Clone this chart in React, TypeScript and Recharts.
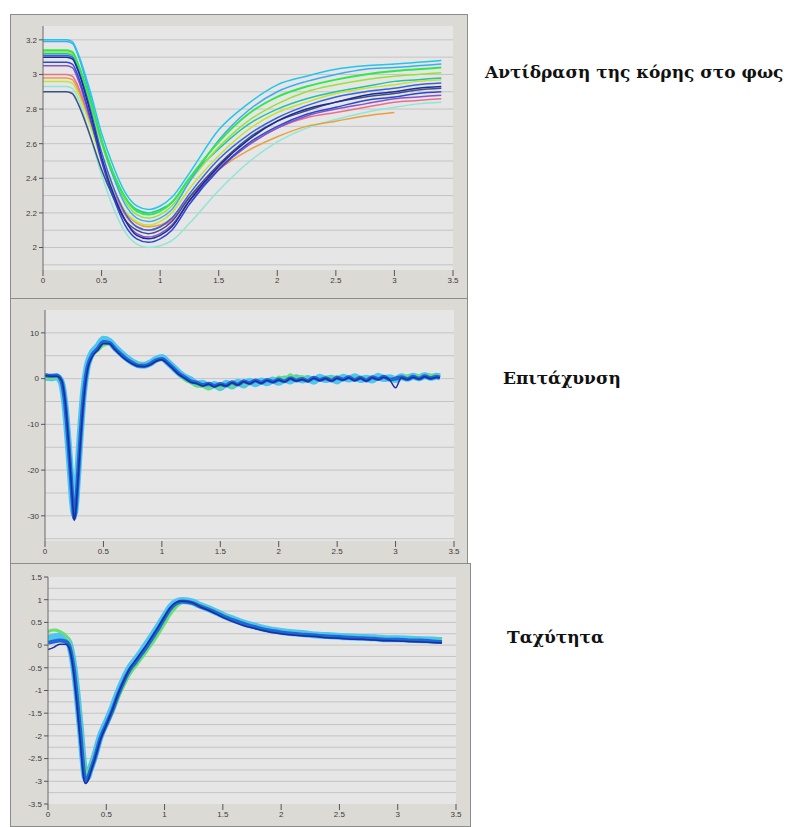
import React from 'react';
import { LineChart, Line, XAxis, YAxis, CartesianGrid, ReferenceLine } from 'recharts';

// shared x axis ticks (seconds)
const X_TICKS = [0, 0.5, 1, 1.5, 2, 2.5, 3, 3.5];

// ---- panel 1: pupil response ----
const T1 = [0, 0.1, 0.2, 0.25, 0.3, 0.4, 0.5, 0.6, 0.7, 0.8, 0.9, 1.0, 1.1, 1.25, 1.5, 1.75, 2.0, 2.25, 2.5, 2.75, 3.0, 3.2, 3.4];
const P_CYAN = [3.2, 3.2, 3.2, 3.19, 3.12, 2.91, 2.66, 2.47, 2.32, 2.24, 2.22, 2.24, 2.29, 2.43, 2.68, 2.83, 2.94, 2.99, 3.03, 3.05, 3.06, 3.07, 3.08];
const P_SKY = [3.19, 3.19, 3.19, 3.18, 3.11, 2.88, 2.62, 2.41, 2.25, 2.17, 2.15, 2.17, 2.22, 2.38, 2.62, 2.79, 2.9, 2.96, 3.0, 3.03, 3.04, 3.05, 3.06];
const P_GREEN = [3.14, 3.14, 3.14, 3.13, 3.06, 2.86, 2.62, 2.43, 2.29, 2.21, 2.19, 2.21, 2.26, 2.4, 2.61, 2.77, 2.87, 2.93, 2.97, 3.0, 3.02, 3.03, 3.04];
const P_LIME = [3.13, 3.13, 3.13, 3.12, 3.05, 2.84, 2.6, 2.41, 2.27, 2.19, 2.17, 2.19, 2.24, 2.38, 2.58, 2.73, 2.83, 2.9, 2.94, 2.97, 2.99, 3.0, 3.01];
const P_TEAL = [3.12, 3.12, 3.12, 3.11, 3.05, 2.84, 2.61, 2.43, 2.29, 2.22, 2.2, 2.22, 2.26, 2.4, 2.57, 2.71, 2.8, 2.86, 2.9, 2.93, 2.96, 2.97, 2.98];
const P_NAVY = [3.1, 3.1, 3.1, 3.09, 3.02, 2.79, 2.52, 2.31, 2.16, 2.07, 2.05, 2.07, 2.12, 2.27, 2.47, 2.62, 2.73, 2.8, 2.84, 2.88, 2.9, 2.92, 2.93];
const P_BLUE = [3.07, 3.07, 3.07, 3.06, 2.99, 2.76, 2.5, 2.29, 2.13, 2.05, 2.03, 2.05, 2.1, 2.25, 2.45, 2.6, 2.7, 2.77, 2.81, 2.85, 2.87, 2.89, 2.9];
const P_PURPLE = [3.05, 3.05, 3.05, 3.04, 2.97, 2.75, 2.51, 2.31, 2.16, 2.08, 2.06, 2.08, 2.13, 2.27, 2.45, 2.59, 2.69, 2.76, 2.8, 2.83, 2.86, 2.87, 2.88];
const P_PINK = [3.0, 3.0, 3.0, 2.99, 2.93, 2.73, 2.51, 2.33, 2.19, 2.12, 2.1, 2.12, 2.16, 2.29, 2.46, 2.59, 2.69, 2.75, 2.78, 2.81, 2.84, 2.85, 2.86];
const P_ORANGE = [2.98, 2.98, 2.98, 2.97, 2.91, 2.72, 2.51, 2.34, 2.21, 2.14, 2.12, 2.13, 2.17, 2.29, 2.45, 2.56, 2.64, 2.7, 2.73, 2.76, 2.78, null, null];
const P_YGREEN = [2.96, 2.96, 2.96, 2.95, 2.89, 2.71, 2.5, 2.34, 2.21, 2.15, 2.13, 2.15, 2.2, 2.34, 2.53, 2.68, 2.78, 2.84, 2.89, 2.92, 2.94, 2.96, 2.97];
const P_AQUA = [2.93, 2.93, 2.93, 2.92, 2.86, 2.65, 2.42, 2.23, 2.09, 2.02, 2.0, 2.01, 2.04, 2.14, 2.33, 2.49, 2.61, 2.69, 2.74, 2.78, 2.81, 2.83, 2.84];
const P_SLATE = [2.9, 2.9, 2.9, 2.89, 2.83, 2.65, 2.45, 2.29, 2.16, 2.1, 2.08, 2.1, 2.15, 2.29, 2.48, 2.63, 2.73, 2.79, 2.84, 2.87, 2.89, 2.91, 2.92];
const P_MBLUE = [3.11, 3.11, 3.11, 3.1, 3.03, 2.81, 2.55, 2.35, 2.2, 2.12, 2.1, 2.12, 2.17, 2.31, 2.51, 2.65, 2.75, 2.82, 2.87, 2.9, 2.92, 2.94, 2.95];
const Y1_TICKS = [2, 2.2, 2.4, 2.6, 2.8, 3, 3.2];
const GRID1 = [1.9, 2, 2.1, 2.2, 2.3, 2.4, 2.5, 2.6, 2.7, 2.8, 2.9, 3, 3.1, 3.2];

// ---- panel 2: acceleration ----
const T2 = [0, 0.05, 0.1, 0.14, 0.17, 0.2, 0.22, 0.24, 0.25, 0.26,
  0.28, 0.3, 0.33, 0.36, 0.4, 0.45, 0.5, 0.55, 0.6, 0.65,
  0.7, 0.75, 0.8, 0.85, 0.9, 0.95, 1.0, 1.05, 1.1, 1.15,
  1.2, 1.25, 1.3, 1.35, 1.4, 1.45, 1.5, 1.55, 1.6, 1.65,
  1.7, 1.75, 1.8, 1.85, 1.9, 1.95, 2.0, 2.05, 2.1, 2.15,
  2.2, 2.25, 2.3, 2.35, 2.4, 2.45, 2.5, 2.55, 2.6, 2.65,
  2.7, 2.75, 2.8, 2.85, 2.9, 2.95, 3.0, 3.05, 3.1, 3.15,
  3.2, 3.25, 3.3, 3.35, 3.38];
const A_CYAN = [0.3, 0.2, 0.4, -0.8, -5.5, -14.5, -21.5, -28, -29.5, -28,
  -21, -13, -3, 2.5, 5.5, 7, 8.6, 8.2, 6.8, 5.6,
  4.5, 3.6, 3.0, 2.9, 3.4, 4.2, 4.6, 3.6, 2.4, 1.2,
  0.3, -0.3, -1.2, -1.0, -1.8, -1.3, -2.0, -1.0, -1.6, -0.8,
  -1.4, -0.6, -1.1, -0.5, -0.9, -0.3, -0.8, -0.1, -0.5, 0.2,
  -0.3, 0.0, -0.6, 0.3, -0.2, 0.1, -0.5, 0.3, -0.1, 0.4,
  -0.2, 0.1, -0.3, 0.5, 0.0, 0.2, -0.2, 0.4, 0.1, 0.5,
  0.2, 0.6, 0.3, 0.5, 0.4];
const A_GREEN = [0.0, 0.1, 0.2, -1.0, -6, -15, -22, -27, -28.5, -27,
  -20, -12, -2.5, 2.0, 4.8, 6.0, 7.2, 7.5, 6.6, 5.4,
  4.4, 3.5, 3.1, 3.0, 3.1, 3.8, 4.1, 3.3, 2.0, 0.8,
  -0.4, -1.0, -1.6, -1.8, -2.3, -1.7, -2.1, -1.4, -1.8, -1.0,
  -1.2, -0.9, -0.6, -0.8, -0.2, -0.6, 0.4, 0.0, 0.9, 0.1,
  0.5, -0.2, 0.3, -0.3, 0.4, 0.0, 0.5, -0.1, 0.3, 0.0,
  0.4, -0.2, 0.2, 0.1, 0.5, -0.1, 0.3, 0.0, 0.6, 0.2,
  0.7, 0.4, 0.8, 0.6, 0.7];
const A_BLUE = [0.8, 0.6, 0.7, -0.5, -5, -14, -21, -28, -30.5, -29,
  -22, -14, -4, 2, 5, 6.5, 8, 7.8, 6.5, 5.3,
  4.2, 3.4, 2.8, 2.8, 3.2, 4.0, 4.3, 3.4, 2.2, 1.0,
  0.2, -0.6, -0.9, -1.4, -1.1, -1.6, -1.2, -1.5, -0.8, -1.3,
  -0.6, -1.0, -0.4, -0.9, -0.3, -0.7, -0.2, -0.6, 0.1, -0.4,
  -0.1, -0.5, 0.2, -0.3, 0.1, -0.4, 0.2, -0.2, 0.3, -0.3,
  0.2, -0.4, 0.3, -0.1, 0.4, -0.2, 0.0, 0.3, -0.1, 0.4,
  0.0, 0.5, 0.1, 0.4, 0.2];
const A_NAVY = [0.6, 0.5, 0.5, -0.3, -4.5, -13.5, -21, -28.5, -31, -29.5,
  -23, -15, -5, 1.5, 4.6, 6.2, 7.6, 7.6, 6.3, 5.0,
  4.0, 3.2, 2.7, 2.6, 3.0, 3.8, 4.1, 3.2, 2.0, 0.8,
  0.0, -0.8, -1.1, -1.6, -1.2, -1.8, -1.3, -1.6, -0.9, -1.4,
  -0.7, -1.1, -0.5, -1.0, -0.4, -0.8, -0.3, -0.7, 0.0, -0.5,
  -0.2, -0.6, 0.1, -0.4, 0.0, -0.5, 0.1, -0.3, 0.2, -0.4,
  0.1, -0.5, 0.2, -0.2, 0.3, -0.3, -2.0, 0.2, -0.2, 0.3,
  -0.1, 0.4, 0.0, 0.3, 0.2];
const Y2_TICKS = [-30, -20, -10, 0, 10];
const GRID2 = [-35, -30, -25, -20, -15, -10, -5, 0, 5, 10];

// ---- panel 3: velocity ----
const T3 = [0, 0.05, 0.1, 0.15, 0.18, 0.2, 0.22, 0.25, 0.28, 0.3,
  0.32, 0.34, 0.36, 0.4, 0.45, 0.5, 0.55, 0.6, 0.65, 0.7,
  0.75, 0.8, 0.85, 0.9, 0.95, 1.0, 1.05, 1.1, 1.15, 1.2,
  1.25, 1.3, 1.4, 1.5, 1.6, 1.7, 1.8, 1.9, 2.0, 2.1,
  2.2, 2.3, 2.4, 2.5, 2.6, 2.7, 2.8, 2.9, 3.0, 3.1,
  3.2, 3.3, 3.38];
const V_CYAN = [0.15, 0.18, 0.2, 0.15, 0.05, -0.15, -0.45, -1.1, -1.9, -2.5,
  -2.9, -2.9, -2.75, -2.45, -2.0, -1.7, -1.4, -1.05, -0.75, -0.5,
  -0.33, -0.15, 0.04, 0.23, 0.43, 0.64, 0.84, 0.95, 0.98, 0.97,
  0.94, 0.88, 0.78, 0.66, 0.56, 0.47, 0.4, 0.34, 0.3, 0.27,
  0.25, 0.22, 0.21, 0.19, 0.18, 0.17, 0.16, 0.14, 0.14, 0.13,
  0.12, 0.11, 0.1];
const V_GREEN = [0.3, 0.33, 0.3, 0.22, 0.1, -0.1, -0.4, -1.0, -1.8, -2.4,
  -2.75, -2.8, -2.7, -2.45, -2.05, -1.78, -1.5, -1.18, -0.9, -0.65,
  -0.47, -0.3, -0.12, 0.06, 0.26, 0.47, 0.68, 0.84, 0.93, 0.95,
  0.93, 0.88, 0.78, 0.66, 0.55, 0.46, 0.39, 0.33, 0.29, 0.26,
  0.24, 0.21, 0.2, 0.18, 0.17, 0.15, 0.15, 0.13, 0.12, 0.11,
  0.11, 0.09, 0.1];
const V_BLUE = [0.05, 0.08, 0.1, 0.08, 0.0, -0.2, -0.5, -1.2, -2.0, -2.6,
  -3.0, -2.95, -2.8, -2.5, -2.05, -1.75, -1.45, -1.1, -0.8, -0.55,
  -0.38, -0.2, -0.02, 0.18, 0.38, 0.6, 0.8, 0.92, 0.96, 0.95,
  0.92, 0.86, 0.76, 0.64, 0.54, 0.45, 0.38, 0.32, 0.28, 0.25,
  0.23, 0.21, 0.19, 0.18, 0.16, 0.15, 0.14, 0.12, 0.12, 0.1,
  0.1, 0.08, 0.07];
const V_NAVY = [-0.1, -0.05, 0.02, 0.02, -0.05, -0.25, -0.6, -1.35, -2.2, -2.8,
  -3.05, -3.0, -2.85, -2.52, -2.08, -1.76, -1.44, -1.08, -0.78, -0.52,
  -0.34, -0.16, 0.02, 0.22, 0.42, 0.63, 0.83, 0.94, 0.97, 0.96,
  0.92, 0.85, 0.74, 0.61, 0.5, 0.41, 0.35, 0.29, 0.25, 0.22,
  0.2, 0.19, 0.16, 0.15, 0.13, 0.13, 0.11, 0.1, 0.09, 0.08,
  0.07, 0.06, 0.05];
const Y3_TICKS = [-3.5, -3, -2.5, -2, -1.5, -1, -0.5, 0, 0.5, 1, 1.5];
const GRID3 = [-3.25, -3, -2.75, -2.5, -2.25, -2, -1.75, -1.5, -1.25, -1, -0.75, -0.5, -0.25, 0, 0.25, 0.5, 0.75, 1, 1.25];

type Series = { key: string; values: (number | null)[]; color: string; width: number };

const SERIES1: Series[] = [
  { key: 'aqua', values: P_AQUA, color: '#8fe6d6', width: 1.5 },
  { key: 'teal', values: P_TEAL, color: '#22c2a4', width: 1.5 },
  { key: 'orange', values: P_ORANGE, color: '#e8a13e', width: 1.5 },
  { key: 'pink', values: P_PINK, color: '#e8708c', width: 1.5 },
  { key: 'purple', values: P_PURPLE, color: '#8a52c8', width: 1.5 },
  { key: 'slate', values: P_SLATE, color: '#3f4f86', width: 1.5 },
  { key: 'ygreen', values: P_YGREEN, color: '#c4e23c', width: 1.5 },
  { key: 'lime', values: P_LIME, color: '#96e23a', width: 1.5 },
  { key: 'mblue', values: P_MBLUE, color: '#3563e2', width: 1.5 },
  { key: 'navy', values: P_NAVY, color: '#1d2a96', width: 1.5 },
  { key: 'blue', values: P_BLUE, color: '#2a48d2', width: 1.5 },
  { key: 'sky', values: P_SKY, color: '#3eaaf2', width: 1.5 },
  { key: 'green', values: P_GREEN, color: '#2fe84c', width: 2 },
  { key: 'cyan', values: P_CYAN, color: '#22c6ea', width: 1.5 },
];

const SERIES2: Series[] = [
  { key: 'cyan', values: A_CYAN, color: '#4ec6ee', width: 7 },
  { key: 'green', values: A_GREEN, color: '#66e070', width: 2.5 },
  { key: 'blue', values: A_BLUE, color: '#1f66d8', width: 4 },
  { key: 'navy', values: A_NAVY, color: '#1a2fa0', width: 1.5 },
];

const SERIES3: Series[] = [
  { key: 'cyan', values: V_CYAN, color: '#4ec6ee', width: 7 },
  { key: 'green', values: V_GREEN, color: '#66e070', width: 3 },
  { key: 'blue', values: V_BLUE, color: '#1f66d8', width: 4 },
  { key: 'navy', values: V_NAVY, color: '#1a2fa0', width: 1.5 },
];

const buildRows = (xs: number[], series: Series[]) =>
  xs.map((x, i) => {
    const row: Record<string, number | null> = { x };
    series.forEach((s) => { row[s.key] = s.values[i] ?? null; });
    return row;
  });

const tickStyle = { fontSize: 8, fill: '#3a3a3a', fontFamily: 'Liberation Sans, Arial, sans-serif' };

interface PanelProps {
  left: number; top: number; width: number; height: number;
  margin: { top: number; right: number; bottom: number; left: number };
  yWidth: number;
  domain: [number, number];
  yTicks: number[];
  grid: number[];
  xs: number[];
  series: Series[];
}

const Panel = ({ left, top, width, height, margin, yWidth, domain, yTicks, grid, xs, series }: PanelProps) => (
  <div style={{ position: 'absolute', left, top, width, height, background: '#dcdad5', border: '1px solid #8c8c8c', boxSizing: 'border-box' }}>
    <LineChart width={width - 2} height={height - 2} data={buildRows(xs, series)} margin={margin}>
      <CartesianGrid fill="#e6e6e6" horizontal={false} vertical={false} />
      {grid.map((g) => (
        <ReferenceLine key={g} y={g} stroke="#c4c4c4" strokeWidth={1} ifOverflow="hidden" />
      ))}
      <XAxis dataKey="x" type="number" domain={[0, 3.5]} ticks={X_TICKS} allowDataOverflow
        axisLine={false} tickSize={6} tickLine={{ stroke: '#555' }} tick={tickStyle} tickMargin={1} height={22} />
      <YAxis type="number" domain={domain} ticks={yTicks} allowDataOverflow width={yWidth}
        axisLine={{ stroke: '#6a6a6a' }} tickLine={{ stroke: '#555' }} tickSize={4} tickMargin={2} tick={tickStyle} />
      {series.map((s) => (
        <Line key={s.key} dataKey={s.key} type="monotone" stroke={s.color} strokeWidth={s.width}
          dot={false} isAnimationActive={false} strokeLinejoin="round" />
      ))}
    </LineChart>
  </div>
);

const labelStyle: React.CSSProperties = {
  position: 'absolute', fontFamily: '"DejaVu Serif", "Liberation Serif", serif', fontWeight: 'bold',
  fontSize: 17, color: '#111', whiteSpace: 'nowrap',
};

export default function App() {
  return (
    <div style={{ position: 'absolute', left: 0, top: 0, width: 798, height: 827, background: '#fff', overflow: 'hidden' }}>
      <Panel left={10} top={14} width={458} height={285}
        margin={{ top: 11, right: 14, bottom: 6, left: 3 }} yWidth={29}
        domain={[1.87, 3.28]} yTicks={Y1_TICKS} grid={GRID1} xs={T1} series={SERIES1} />
      <Panel left={10} top={298} width={458} height={266}
        margin={{ top: 11, right: 13, bottom: 0, left: 3 }} yWidth={31}
        domain={[-35.5, 15]} yTicks={Y2_TICKS} grid={GRID2} xs={T2} series={SERIES2} />
      <Panel left={10} top={563} width={461} height={264}
        margin={{ top: 13, right: 14, bottom: 0, left: 3 }} yWidth={34}
        domain={[-3.5, 1.5]} yTicks={Y3_TICKS} grid={GRID3} xs={T3} series={SERIES3} />
      <div style={{ ...labelStyle, left: 485, top: 62 }}>Αντίδραση της κόρης στο φως</div>
      <div style={{ ...labelStyle, left: 503, top: 368 }}>Επιτάχυνση</div>
      <div style={{ ...labelStyle, left: 507, top: 627 }}>Ταχύτητα</div>
    </div>
  );
}
